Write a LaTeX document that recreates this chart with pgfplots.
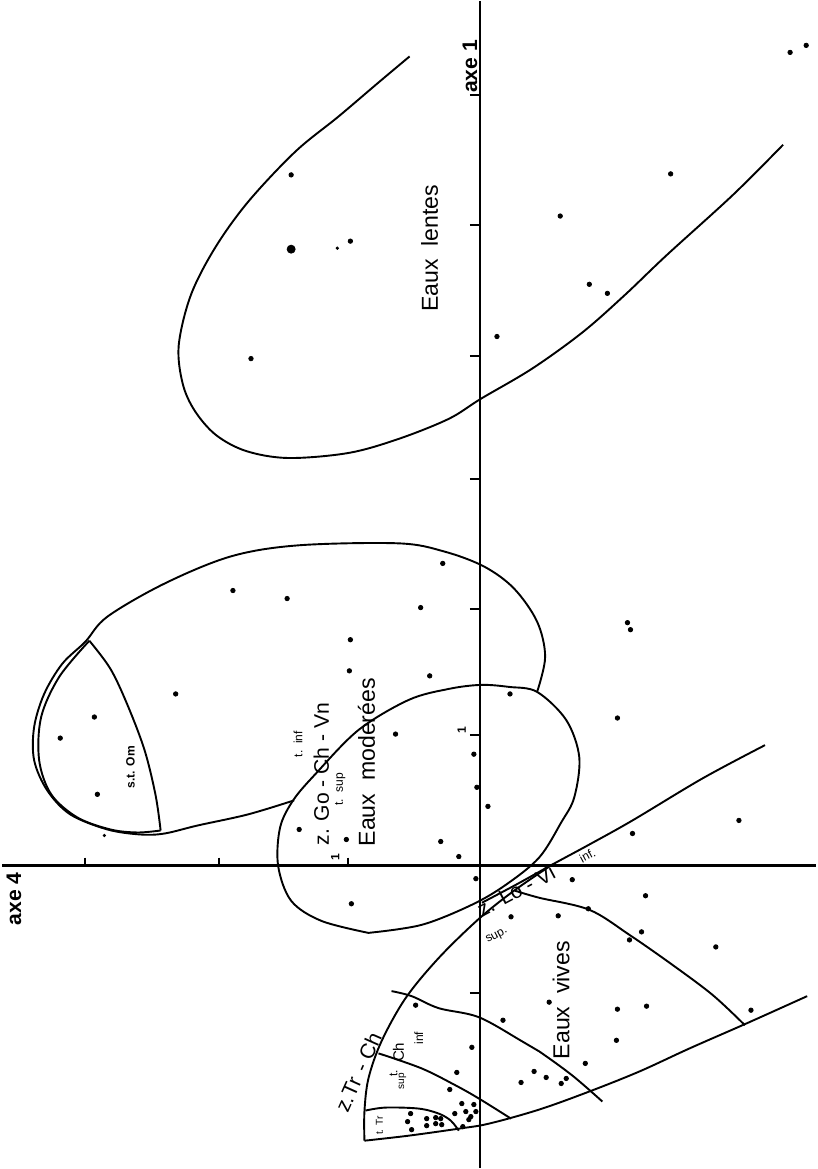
\documentclass[border=0pt]{standalone}
\usepackage{fontspec}
\setmainfont{Liberation Sans}
\usepackage{pgfplots}
\pgfplotsset{compat=1.18}
\newcommand\fbig{\fontsize{11.5}{13}\selectfont}
\newcommand\fmid{\fontsize{10.5}{12}\selectfont}
\newcommand\fsml{\fontsize{6}{7}\selectfont}
\newcommand\ftin{\fontsize{5}{6}\selectfont}
\begin{document}
\begin{tikzpicture}
\begin{axis}[
  x=0.5pt, y=0.5pt, y dir=reverse,
  xmin=0, xmax=816, ymin=0, ymax=1169,
  hide axis, clip=false, unbounded coords=jump,
  curve/.style={black, line width=0.95pt, smooth, tension=0.55},
  dots/.style={only marks, mark=*, mark size=1.1pt, black},
]
% axes and ticks
\addplot[black, line width=1.2pt] coordinates {(481,7) (481,1169)};
\addplot[black, line width=1.2pt] coordinates {(5,868) (816,868)};
\addplot[black, line width=1pt] coordinates {
  (471,100) (481,100) (nan,nan) (471,230) (481,230) (nan,nan)
  (471,360) (481,360) (nan,nan) (471,483) (481,483) (nan,nan)
  (471,612) (481,612) (nan,nan) (471,738) (481,738) (nan,nan)
  (471,995) (481,995) (nan,nan)
  (88,860) (88,868) (nan,nan) (221,860) (221,868) (nan,nan)
  (350,860) (350,868)};

% Eaux lentes
\addplot[curve] coordinates {
  (411,62) (380,88) (340,122) (297,157) (250,207) (217,253) (193,300) (181,350)
  (185,388) (197,415) (218,439) (248,455) (290,462) (350,457) (400,443)
  (450,423) (482,403) (533,373) (583,337) (625,300) (667,260) (733,200) (783,150)};

% ellipse A (upper left)
\addplot[curve] coordinates {
  (296,803) (250,817) (200,828) (167,836) (143,837) (110,832) (73,817)
  (50,793) (37,763) (37,730) (47,697) (65,667) (88,645) (110,620) (167,587)
  (233,560) (300,549) (400,547) (445,555) (485,570) (515,592) (538,625)
  (546,660) (538,695)};
% s.t. Om
\addplot[curve] coordinates {
  (92,644) (62,680) (44,720) (42,763) (54,797) (80,820) (113,832) (140,835) (163,833)};
\addplot[curve] coordinates {
  (92,644) (113,672) (130,708) (147,753) (158,798) (163,833)};

% ellipse B (Eaux moderees)
\addplot[curve] coordinates {
  (370,935) (323,923) (293,903) (280,868) (282,830) (295,803) (317,777)
  (360,733) (410,703) (450,692) (482,688) (510,690) (538,695) (567,723)
  (580,760) (575,800) (562,825) (540,860) (507,887) (473,907) (423,927) (370,935)};

% z. Lo - Vi band
\addplot[curve] coordinates {
  (765,748) (703,781) (633,823) (590,847) (553,867) (517,887) (483,905)};
% Eaux vives outer arc
\addplot[curve] coordinates {
  (553,867) (515,893) (480,921) (440,960) (407,1000) (383,1043) (370,1080)
  (366,1113) (366,1142)};
% bottom line
\addplot[curve] coordinates {
  (366,1142) (410,1137) (460,1130) (490,1125) (540,1111) (590,1093)
  (640,1073) (690,1050) (747,1025) (807,998)};
% inner arcs
\addplot[curve] coordinates {
  (516,893) (540,900) (590,912) (630,937) (673,967) (713,997) (745,1027)};
\addplot[curve] coordinates {
  (393,993) (413,998) (440,1010) (480,1019) (523,1043) (540,1053) (573,1077) (603,1103)};
\addplot[curve] coordinates {
  (380,1055) (423,1070) (457,1087) (480,1100) (512,1120)};
\addplot[curve] coordinates {
  (367,1112) (387,1109) (420,1110) (440,1115) (452,1122) (460,1132)};

% observations
\addplot[dots] coordinates {
  (790,58) (806,51) (671,179) (561,221) (590,289) (608,298) (293,180)
  (352,246) (253,363) (498,341)
  (444,567) (628,626) (631,633) (511,697) (618,721) (235,594) (289,602)
  (422,611) (352,643) (351,674) (431,679) (397,737) (475,757) (478,790)
  (489,809) (301,832) (348,842) (442,844) (460,859) (178,697) (97,720)
  (63,741) (100,797) (477,881) (353,906) (512,919)
  (739,823) (633,836) (573,882) (646,898) (589,911) (559,918) (642,934)
  (630,942) (716,949) (550,1004) (618,1011) (647,1008) (751,1012) (617,1042)
  (586,1065) (547,1079) (562,1085) (567,1080)
  (417,1007) (504,1022) (473,1049) (458,1074) (535,1073) (522,1084) (451,1091)
  (463,1105) (475,1106) (456,1115) (412,1115) (409,1123) (413,1131) (428,1120)
  (437,1119) (442,1120) (428,1127) (437,1125) (443,1126) (464,1128) (467,1113)
  (472,1118) (477,1113) (470,1121)};
\addplot[only marks, mark=*, mark size=2pt, black] coordinates {(293,254)};
\addplot[only marks, mark=*, mark size=0.6pt, black] coordinates {(339,253) (107,838)};

% labels
\node[rotate=90, font=\fbig] at (axis cs:431,253) {Eaux\ \ lentes};
\node[rotate=90, font=\fbig] at (axis cs:368,765) {Eaux\ \ moderées};
\node[rotate=90, font=\fbig] at (axis cs:562,1002) {Eaux\ \ vives};
\node[rotate=90, font=\fmid] at (axis cs:323,777) {z. Go - Ch - Vn};
\node[rotate=90, font=\fsml] at (axis cs:342,792) {t.\ \ sup};
\node[rotate=90, font=\fsml] at (axis cs:300,747) {t.\ \ inf};
\node[rotate=28, font=\fmid] at (axis cs:517,893) {z. Lo - Vi};
\node[rotate=28, font=\fsml] at (axis cs:498,938) {sup.};
\node[rotate=28, font=\fsml] at (axis cs:588,858) {inf.};
\node[rotate=66, font=\fmid, inner sep=0pt] at (axis cs:350,1096) {z.Tr};
\node[rotate=66, font=\fmid, inner sep=0pt] at (axis cs:369,1054) {- Ch};
\node[rotate=90, font=\fsml, inner sep=0pt] at (axis cs:395,1075) {t.};
\node[rotate=90, font=\ftin, inner sep=0pt] at (axis cs:404,1083) {sup};
\node[rotate=90, font=\fontsize{7.5}{8}\selectfont, inner sep=0pt] at (axis cs:400,1054) {Ch};
\node[rotate=90, font=\fsml, inner sep=0pt] at (axis cs:420,1040) {inf};
\node[rotate=90, font=\ftin, inner sep=0pt] at (axis cs:381,1127) {t. Tr};
\node[rotate=90, font=\fsml\bfseries] at (axis cs:133,770) {s.t. Om};
\node[rotate=90, font=\fmid\bfseries] at (axis cs:471,72) {axe 1};
\node[rotate=90, font=\fmid\bfseries] at (axis cs:17,901) {axe 4};
\node[rotate=90, font=\fsml\bfseries] at (axis cs:463,733) {1};
\node[rotate=90, font=\fsml\bfseries] at (axis cs:337,860) {1};
\end{axis}
\end{tikzpicture}
\end{document}
